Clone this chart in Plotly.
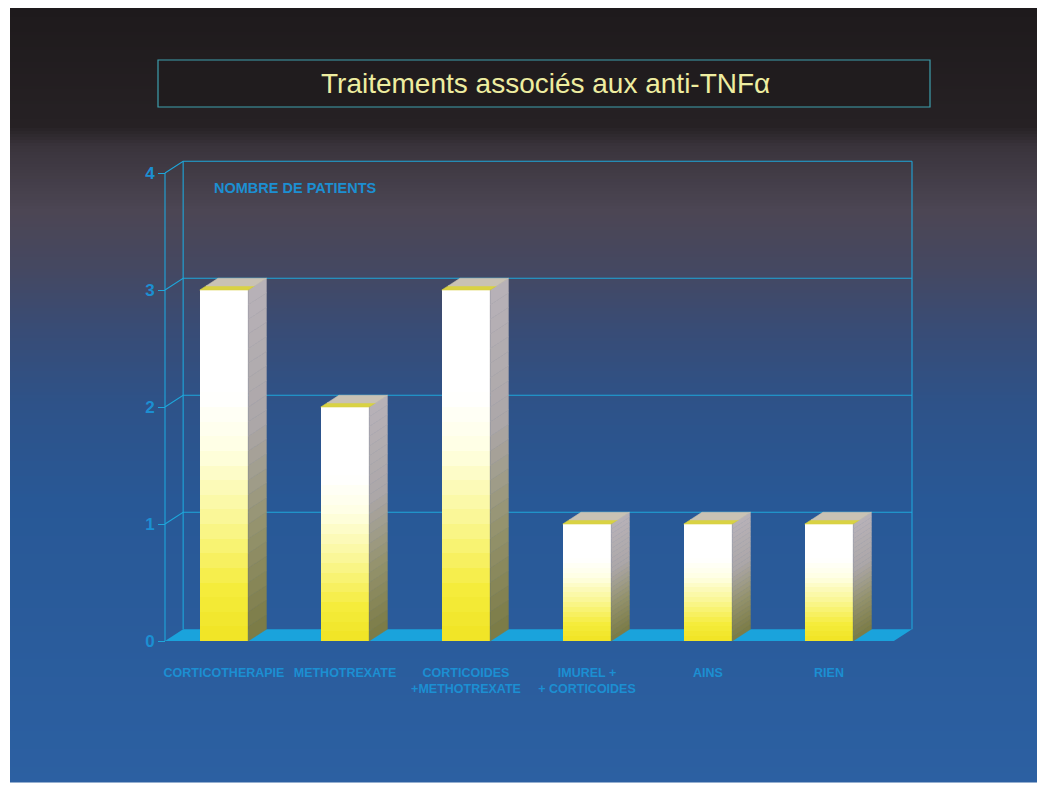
import plotly.graph_objects as go

# ---------------- data ----------------
categories = ["CORTICOTHERAPIE", "METHOTREXATE", "CORTICOIDES<br>+METHOTREXATE",
              "IMUREL +<br>+ CORTICOIDES", "AINS", "RIEN"]
values = [3, 2, 3, 1, 1, 1]
y_ticks = [0, 1, 2, 3, 4]
title_text = "Traitements associés aux anti-TNFα"
axis_title = "NOMBRE DE PATIENTS"

# ---------------- geometry / style ----------------
W, H = 1042, 785
X0PX, XSTEP = 224, 121        # pixel of category 0, pixels per category
Y0PX, YSTEP = 641, 117        # pixel of value 0, pixels per unit
xr = [(0 - X0PX) / XSTEP, (W - X0PX) / XSTEP]
yr = [(Y0PX - H) / YSTEP, (Y0PX - 0) / YSTEP]

BW = 0.4            # bar front width
DX, DY = 0.15, 0.1  # depth offset
FRONT_X = (165 - X0PX) / XSTEP
BACK_RIGHT = (912 - X0PX) / XSTEP
YMAX = 4
CYAN = "#1ea6da"
LBL = "#1c8fd2"
N = 24


def interp(stops, t):
    for (t0, c0), (t1, c1) in zip(stops[:-1], stops[1:]):
        if t <= t1:
            f = 0 if t1 == t0 else (t - t0) / (t1 - t0)
            f = max(0, min(1, f))
            return tuple(int(round(a + (b - a) * f)) for a, b in zip(c0, c1))
    return stops[-1][1]


def rgb(c):
    return "rgb(%d,%d,%d)" % c


shapes = []
# background gradient of the slide (scanned page: white border)
bg_stops = [(8, (30, 26, 28)), (125, (38, 33, 36)), (145, (58, 52, 60)),
            (210, (76, 70, 84)), (270, (68, 72, 98)), (330, (56, 76, 118)),
            (400, (46, 82, 136)), (500, (40, 88, 150)), (782, (44, 96, 162))]
step = 3
for py in range(8, 782, step):
    c = interp(bg_stops, py)
    shapes.append(dict(type="rect", xref="paper", yref="paper", layer="below",
                       x0=10 / W, x1=1037 / W,
                       y0=1 - (py + step + 0.5) / H, y1=1 - py / H,
                       fillcolor=rgb(c), line=dict(width=0)))

# title box
shapes.append(dict(type="rect", xref="paper", yref="paper", layer="below",
                   x0=158 / W, x1=930 / W, y0=1 - 107 / H, y1=1 - 60 / H,
                   fillcolor="rgba(32,28,30,0.9)", line=dict(color="#3e9fae", width=1.2)))

# floor
shapes.append(dict(type="path", xref="x", yref="y", layer="below",
                   path="M %f,%f L %f,%f L %f,%f L %f,%f Z" % (
                       FRONT_X, 0, BACK_RIGHT - DX, 0, BACK_RIGHT, DY, FRONT_X + DX, DY),
                   fillcolor="#1aa3dc", line=dict(width=0)))

line_style = dict(color=CYAN, width=1.1)
# front axis line
shapes.append(dict(type="line", xref="x", yref="y", layer="below",
                   x0=FRONT_X, y0=0, x1=FRONT_X, y1=YMAX, line=line_style))
# back wall verticals
shapes.append(dict(type="line", xref="x", yref="y", layer="below",
                   x0=FRONT_X + DX, y0=DY, x1=FRONT_X + DX, y1=YMAX + DY, line=line_style))
shapes.append(dict(type="line", xref="x", yref="y", layer="below",
                   x0=BACK_RIGHT, y0=DY, x1=BACK_RIGHT, y1=YMAX + DY, line=line_style))
# gridlines (back wall) with connectors to the front axis
for v in y_ticks:
    if v == 0:
        continue
    shapes.append(dict(type="path", xref="x", yref="y", layer="below",
                       path="M %f,%f L %f,%f L %f,%f" % (
                           FRONT_X, v, FRONT_X + DX, v + DY, BACK_RIGHT, v + DY),
                       line=line_style))

fig = go.Figure()

# front faces: stacked gradient segments (yellow bottom -> white top)
front_stops = [(0, (240, 228, 36)), (0.15, (245, 236, 60)), (0.35, (250, 247, 150)),
               (0.55, (255, 255, 228)), (0.7, (255, 255, 255)), (1, (255, 255, 255))]
xs = list(range(len(categories)))
for k in range(N):
    t = (k + 0.5) / N
    fig.add_trace(go.Bar(x=xs, y=[v / N for v in values], width=BW,
                         marker=dict(color=rgb(interp(front_stops, t)), line=dict(width=0)),
                         showlegend=False, hoverinfo="skip"))

# side faces
side_stops = [(0, (122, 122, 68)), (0.3, (148, 146, 108)), (0.6, (172, 167, 168)),
              (1, (184, 178, 184))]
for k in range(N):
    t = (k + 0.5) / N
    sx, sy = [], []
    for x, v in zip(xs, values):
        a, b = v * k / N, v * (k + 1) / N
        r = x + BW / 2
        sx += [r, r + DX, r + DX, r, r, None]
        sy += [a, a + DY, b + DY, b, a, None]
    col = rgb(interp(side_stops, t))
    fig.add_trace(go.Scatter(x=sx, y=sy, mode="lines", fill="toself",
                             fillcolor=col, line=dict(width=0.6, color=col),
                             showlegend=False, hoverinfo="skip"))

# top faces: yellow strip at front edge, grey-beige at the back
for frac0, frac1, col in [(0, 0.35, "#d9d243"), (0.35, 1.0, "#c9c2b4")]:
    tx, ty = [], []
    for x, v in zip(xs, values):
        l, r = x - BW / 2, x + BW / 2
        tx += [l + DX * frac0, r + DX * frac0, r + DX * frac1, l + DX * frac1, l + DX * frac0, None]
        ty += [v + DY * frac0, v + DY * frac0, v + DY * frac1, v + DY * frac1, v + DY * frac0, None]
    fig.add_trace(go.Scatter(x=tx, y=ty, mode="lines", fill="toself", fillcolor=col,
                             line=dict(width=0.6, color=col), showlegend=False, hoverinfo="skip"))

fig.update_layout(
    width=W, height=H, margin=dict(l=0, r=0, t=0, b=0),
    paper_bgcolor="white", plot_bgcolor="rgba(0,0,0,0)",
    barmode="stack", bargap=0,
    shapes=shapes,
    xaxis=dict(range=xr, domain=[0, 1], anchor="free", position=(H - 663) / H,
               tickmode="array", tickvals=xs, ticktext=categories,
               tickfont=dict(family="Liberation Sans, Arial", size=12.5, color=LBL, weight="bold"),
               showgrid=False, zeroline=False, showline=False, ticks="", fixedrange=True),
    yaxis=dict(range=yr, domain=[0, 1], anchor="free", position=165 / W,
               tickmode="array", tickvals=y_ticks, ticktext=[str(v) for v in y_ticks],
               tickfont=dict(family="Liberation Sans, Arial", size=17, color=LBL, weight="bold"),
               ticks="outside", ticklen=7, tickcolor=CYAN, tickwidth=1.1,
               showgrid=False, zeroline=False, showline=False, fixedrange=True),
    annotations=[
        dict(text=title_text, xref="paper", yref="paper", x=545 / W, y=1 - 84 / H,
             showarrow=False, xanchor="center", yanchor="middle",
             font=dict(family="Liberation Sans, Arial", size=28, color="#eeeda0")),
        dict(text=axis_title, xref="paper", yref="paper", x=212 / W, y=1 - 188 / H,
             showarrow=False, xanchor="left", yanchor="middle",
             font=dict(family="Liberation Sans, Arial", size=14.5, color=LBL, weight="bold")),
    ],
)

fig.write_html("out.html")
